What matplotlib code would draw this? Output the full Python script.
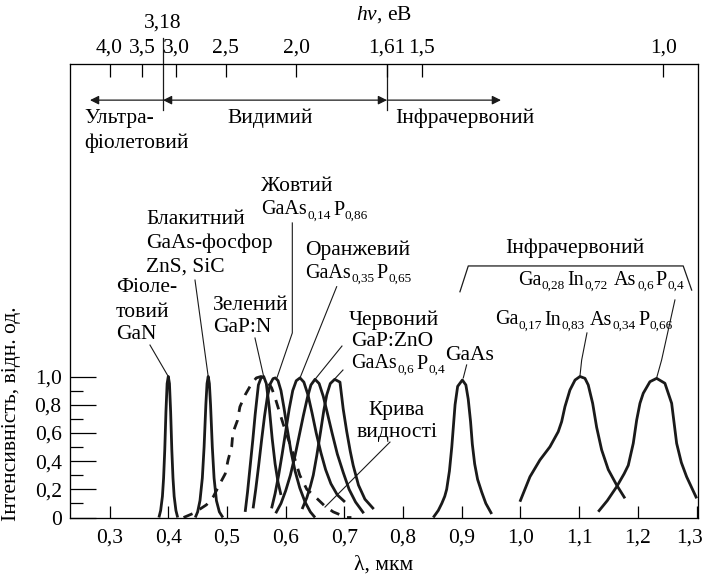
import numpy as np
import matplotlib.pyplot as plt
import matplotlib.transforms as mtransforms

plt.rcParams['font.family'] = ['Liberation Serif', 'DejaVu Serif']
plt.rcParams['mathtext.fontset'] = 'custom'
plt.rcParams['mathtext.rm'] = 'Liberation Serif'
plt.rcParams['mathtext.it'] = 'Liberation Serif:italic'
plt.rcParams['font.size'] = 15.5

# ---- spectra (lambda in um, relative intensity) ----
gan_x = [0.384, 0.387, 0.390, 0.392, 0.394, 0.396, 0.398, 0.400, 0.402, 0.404, 0.406, 0.408, 0.410, 0.413, 0.416]
gan_y = [0.0, 0.05, 0.15, 0.28, 0.48, 0.75, 0.95, 1.0, 0.95, 0.75, 0.48, 0.28, 0.15, 0.05, 0.0]

blue_x = [0.446, 0.450, 0.454, 0.458, 0.461, 0.464, 0.466, 0.468, 0.470, 0.472, 0.475, 0.478, 0.482, 0.487, 0.493]
blue_y = [0.0, 0.04, 0.12, 0.28, 0.50, 0.80, 0.95, 1.0, 0.95, 0.80, 0.50, 0.28, 0.12, 0.04, 0.0]

vis_x = [0.426, 0.443, 0.465, 0.477, 0.488, 0.497, 0.502, 0.508, 0.510, 0.518, 0.522, 0.531, 0.542, 0.550, 0.558,
         0.566, 0.576, 0.582, 0.590, 0.596, 0.604, 0.610, 0.619, 0.624, 0.636, 0.647, 0.667, 0.681, 0.704, 0.712]
vis_y = [0.0, 0.03, 0.09, 0.15, 0.24, 0.31, 0.41, 0.50, 0.60, 0.69, 0.785, 0.87, 0.95, 0.99, 1.0,
         0.98, 0.92, 0.85, 0.74, 0.66, 0.56, 0.49, 0.37, 0.30, 0.20, 0.16, 0.08, 0.04, 0.0, 0.0]

green_x = [0.531, 0.535, 0.5396, 0.544, 0.548, 0.5535, 0.558, 0.5625, 0.567, 0.572, 0.577, 0.582, 0.587, 0.592]
green_y = [0.04, 0.18, 0.37, 0.55, 0.73, 0.94, 0.99, 1.0, 0.95, 0.78, 0.56, 0.38, 0.25, 0.16]

yellow_x = [0.5445, 0.549, 0.554, 0.559, 0.564, 0.569, 0.574, 0.5785, 0.5825, 0.587, 0.592, 0.597, 0.603,
            0.609, 0.616, 0.624, 0.633, 0.642, 0.650]
yellow_y = [0.065, 0.2, 0.37, 0.55, 0.72, 0.86, 0.95, 0.985, 0.99, 0.97, 0.9, 0.78, 0.62,
            0.47, 0.33, 0.21, 0.11, 0.04, 0.0]

orange_x = [0.576, 0.582, 0.588, 0.594, 0.600, 0.606, 0.612, 0.618, 0.6244, 0.631, 0.638, 0.645, 0.652,
            0.660, 0.668, 0.677, 0.688, 0.701]
orange_y = [0.065, 0.17, 0.3, 0.45, 0.61, 0.77, 0.9, 0.97, 0.99, 0.96, 0.87, 0.74, 0.6,
            0.46, 0.34, 0.24, 0.16, 0.11]

red_x = [0.583, 0.592, 0.600, 0.608, 0.616, 0.623, 0.630, 0.637, 0.643, 0.650, 0.657, 0.664, 0.671,
         0.679, 0.688, 0.698, 0.708, 0.719, 0.733]
red_y = [0.03, 0.1, 0.19, 0.3, 0.44, 0.58, 0.72, 0.85, 0.94, 0.98, 0.95, 0.86, 0.74,
         0.6, 0.45, 0.32, 0.2, 0.11, 0.03]

gaasp_x = [0.628, 0.636, 0.642, 0.647, 0.653, 0.6595, 0.665, 0.670, 0.676, 0.6835, 0.6925, 0.698, 0.704,
           0.710, 0.715, 0.724, 0.735, 0.750]
gaasp_y = [0.06, 0.14, 0.22, 0.3, 0.44, 0.61, 0.76, 0.87, 0.95, 0.98, 0.96, 0.77, 0.61,
           0.47, 0.37, 0.23, 0.13, 0.06]

gaas_x = [0.8514, 0.860, 0.866, 0.871, 0.8743, 0.879, 0.883, 0.8886, 0.893, 0.901, 0.907, 0.911, 0.915,
          0.918, 0.922, 0.927, 0.934, 0.941, 0.951]
gaas_y = [0.0, 0.05, 0.10, 0.15, 0.2, 0.33, 0.5, 0.8, 0.93, 0.975, 0.94, 0.84, 0.68,
          0.52, 0.38, 0.27, 0.18, 0.1, 0.025]

in83_x = [0.9991, 1.0162, 1.0332, 1.0503, 1.0644, 1.0702, 1.0758, 1.0843, 1.093, 1.1014, 1.1099, 1.1155,
          1.123, 1.1298, 1.1383, 1.1496, 1.1639, 1.178]
in83_y = [0.112, 0.289, 0.408, 0.502, 0.609, 0.68, 0.786, 0.904, 0.975, 1.0, 0.987, 0.94,
          0.81, 0.64, 0.48, 0.34, 0.23, 0.136]

in72_x = [1.1325, 1.148, 1.1639, 1.1766, 1.1837, 1.1922, 1.198, 1.2036, 1.2092, 1.2206, 1.232, 1.2461,
          1.2576, 1.2661, 1.2741, 1.2831, 1.3002]
in72_y = [0.041, 0.12, 0.218, 0.31, 0.37, 0.526, 0.691, 0.81, 0.881, 0.963, 0.987, 0.952,
          0.81, 0.526, 0.39, 0.289, 0.136]

solid_curves = [(gan_x, gan_y), (blue_x, blue_y), (green_x, green_y), (yellow_x, yellow_y),
                (orange_x, orange_y), (red_x, red_y), (gaasp_x, gaasp_y), (gaas_x, gaas_y),
                (in83_x, in83_y), (in72_x, in72_y)]

# axis ticks
x_ticks = [0.3, 0.4, 0.5, 0.6, 0.7, 0.8, 0.9, 1.0, 1.1, 1.2, 1.3]
x_labels = ['0,3', '0,4', '0,5', '0,6', '0,7', '0,8', '0,9', '1,0', '1,1', '1,2', '1,3']
y_ticks = [0, 0.2, 0.4, 0.6, 0.8, 1.0]
y_labels = ['0', '0,2', '0,4', '0,6', '0,8', '1,0']
y_minor = [0.1, 0.3, 0.5, 0.7, 0.9]
# photon energy scale on top: where each tick stands on the lambda axis
ev_labels = ['4,0', '3,5', '3,0', '2,5', '2,0', '1,61', '1,5', '1,0']
ev_pos = [0.300, 0.356, 0.413, 0.4976, 0.6184, 0.7726, 0.8322, 1.2434]
uv_edge = 0.391    # 3,18 eB
ir_edge = 0.7726   # 1,61 eB

fig = plt.figure(figsize=(7.04, 5.79), dpi=100)
ax = fig.add_axes([0.0994, 0.1062, 0.892, 0.7832])
ax.set_xlim(0.2325, 1.3024)
ax.set_ylim(0, 3.216)

ink = '#1a1a1a'
for cx, cy in solid_curves:
    ax.plot(cx, cy, color=ink, lw=2.0, solid_joinstyle='round', solid_capstyle='butt')
ax.plot(vis_x, vis_y, color=ink, lw=2.0, linestyle=(0, (3.5, 3)))

for s in ax.spines.values():
    s.set_linewidth(0.9)
    s.set_color('#333333')

ax.set_xticks(x_ticks)
ax.set_xticklabels(x_labels)
ax.set_yticks(y_ticks)
ax.set_yticklabels(y_labels)
ax.set_yticks(y_minor, minor=True)
ax.tick_params(axis='x', direction='in', length=9, width=0.9, pad=8)
ax.tick_params(axis='y', which='major', direction='in', length=19, width=0.9, pad=6)
ax.tick_params(axis='y', which='minor', direction='in', length=9, width=0.9)
# last label sits on the figure edge: nudge it inside
last = ax.get_xticklabels()[-1]
last.set_transform(last.get_transform() + mtransforms.ScaledTranslation(-7 / 100, 0, fig.dpi_scale_trans))
ax.set_xlabel('λ, мкм', labelpad=6)
ax.set_ylabel('Інтенсивність, відн. од.')
ax.yaxis.set_label_coords(-0.078, 0.228)

# top energy axis
top = ax.twiny()
top.set_xlim(ax.get_xlim())
top.set_xticks(ev_pos)
top.set_xticklabels(ev_labels)
top.tick_params(axis='x', direction='in', length=9, width=0.9, pad=5)
ax.text(0.5, 1.11, r'$h\nu$, еВ', transform=ax.transAxes, ha='center', va='center')
ax.text(uv_edge, 3.51, '3,18', ha='center', va='center', clip_on=False)

# region borders and arrows
ax.plot([uv_edge, uv_edge], [2.89, 3.40], color=ink, lw=0.9, clip_on=False)
ax.plot([ir_edge, ir_edge], [2.89, 3.216], color=ink, lw=0.9)
arr = dict(arrowstyle='-|>', color=ink, lw=0.9, mutation_scale=13, shrinkA=0, shrinkB=0)
ax.annotate('', xy=(0.2666, 2.96), xytext=(uv_edge, 2.96), arrowprops=arr)
ax.annotate('', xy=(ir_edge, 2.96), xytext=(uv_edge, 2.96),
            arrowprops=dict(arrowstyle='<|-|>', color=ink, lw=0.9, mutation_scale=13, shrinkA=0, shrinkB=0))
ax.annotate('', xy=(0.9668, 2.96), xytext=(ir_edge, 2.96), arrowprops=arr)
ax.text(0.2564, 2.833, 'Ультра-', ha='left', va='center')
ax.text(0.2564, 2.656, 'фіолетовий', ha='left', va='center')
ax.text(0.5733, 2.833, 'Видимий', ha='center', va='center')
ax.text(0.7862, 2.833, 'Інфрачервоний', ha='left', va='center')

# labels of the LEDs
def lab(x, y, s, ha='left'):
    ax.text(x, y, s, ha=ha, va='center')

def ptr(xs, ys):
    ax.plot(xs, ys, color=ink, lw=0.8)

MAIN = 14.5      # formula letters, pt
SUB = 9.5        # subscript size, pt
BASE = 3.15      # descent of the main font (pt), to get from bbox bottom to baseline
DROP = 2.6       # how far subscripts sit below the baseline

# formula written piece by piece: (text, is_subscript, gap before it in pt)
def chem(x, y, parts):
    first = ax.text(x, y, parts[0][0], ha='left', va='center', fontsize=MAIN)
    prev = first
    for s, sub, gap in parts[1:]:
        dy = BASE - DROP if sub else BASE
        prev = ax.annotate(s, xy=(1, 0), xycoords=(prev, first), xytext=(gap, dy),
                           textcoords='offset points', va='baseline', ha='left',
                           fontsize=SUB if sub else MAIN)

lab(0.3109, 1.628, 'Фіоле-')
lab(0.3109, 1.457, 'товий')
lab(0.3109, 1.301, 'GaN')
ptr([0.3688, 0.400], [1.223, 1.0])

lab(0.362, 2.110, 'Блакитний')
lab(0.362, 1.947, 'GaAs-фосфор')
lab(0.362, 1.777, 'ZnS, SiC')
ptr([0.4455, 0.468], [1.684, 1.0])

lab(0.4762, 1.507, 'Зелений')
lab(0.4762, 1.344, 'GaP:N')
ptr([0.5477, 0.5625], [1.273, 1.0])

lab(0.5579, 2.344, 'Жовтий')
chem(0.5579, 2.181, [('GaAs', 0, 0), ('0,14', 1, 0.3), ('P', 0, 2.0), ('0,86', 1, 0.3)])
ptr([0.6113, 0.6113, 0.5855], [2.089, 1.309, 0.995])

lab(0.6329, 1.897, 'Оранжевий')
chem(0.6329, 1.734, [('GaAs', 0, 0), ('0,35', 1, 0.3), ('P', 0, 2.0), ('0,65', 1, 0.3)])
ptr([0.6869, 0.6244], [1.637, 0.99])

lab(0.7078, 1.401, 'Червоний')
lab(0.7112, 1.245, 'GaP:ZnO')
chem(0.7112, 1.089, [('GaAs', 0, 0), ('0,6', 1, 0.3), ('P', 0, 2.0), ('0,4', 1, 0.3)])
ptr([0.6959, 0.650], [1.216, 0.98])
ptr([0.6976, 0.684], [1.046, 0.985])

lab(0.7896, 0.762, 'Крива', ha='center')
lab(0.7896, 0.606, 'видності', ha='center')
ptr([0.7777, 0.667], [0.535, 0.074])

lab(0.914, 1.152, 'GaAs', ha='center')
ptr([0.9083, 0.9026], [1.082, 0.99])

lab(1.0928, 1.911, 'Інфрачервоний', ha='center')
ax.plot([0.8969, 0.9111, 1.2773, 1.2917], [1.601, 1.784, 1.784, 1.613], color=ink, lw=0.9)
chem(0.9957, 1.684, [('Ga', 0, 0), ('0,28', 1, 0.3), ('In', 0, 1.5), ('0,72', 1, 0.3),
                     ('As', 0, 5.0), ('0,6', 1, 0.3), ('P', 0, 1.5), ('0,4', 1, 0.3)])
chem(0.9566, 1.401, [('Ga', 0, 0), ('0,17', 1, 0.3), ('In', 0, 1.5), ('0,83', 1, 0.3),
                     ('As', 0, 4.0), ('0,34', 1, 0.3), ('P', 0, 1.5), ('0,66', 1, 0.3)])
ptr([1.1133, 1.1043, 1.1014], [1.309, 1.117, 1.004])
ptr([1.2632, 1.2405, 1.232], [1.543, 1.117, 0.99])

fig.savefig('out.png', dpi=100)
